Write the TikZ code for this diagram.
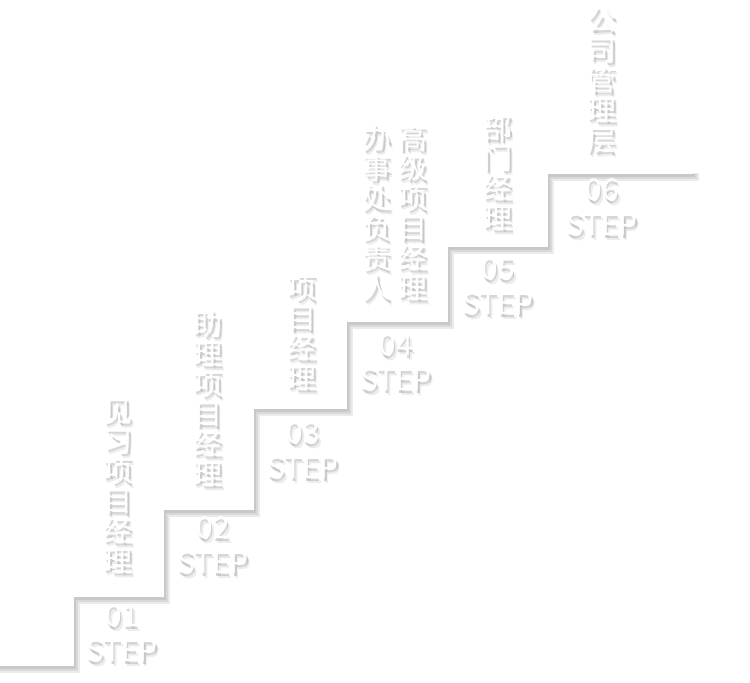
\documentclass[tikz,border=0pt]{standalone}
\usepackage{fontspec}
\setmainfont{Noto Sans CJK SC}
\usetikzlibrary{positioning}

\begin{document}
\begin{tikzpicture}[x=1pt, y=-1pt,
  num/.style={font=\fontsize{30}{35}\selectfont, align=center, inner sep=0pt},
  ttl/.style={font=\fontsize{29}{30}\selectfont, align=center, inner sep=0pt},
  shd/.style={text=black, opacity=0.16},
  shdb/.style={text=black, opacity=0.07},
  stair/.style={line join=miter, line cap=rect}]
\useasboundingbox (0,0) rectangle (750,683);
% the stairs: soft shadow, then the white line
\foreach \o/\w in {3/8, 2/5, 1/3}
  \draw[stair, black, opacity=0.08, line width=\w pt, shift={(\o,\o+1)}]
    (0,665) -| (73,596) -| (163,509) -| (253,408) -| (346,321) -| (447,246) -| (547,173) -- (692,173);
\draw[stair, white, line width=2.5pt]
  (0,665) -| (73,596) -| (163,509) -| (253,408) -| (346,321) -| (447,246) -| (547,173) -- (692,173);
% step numbers
\foreach \n/\x/\y/\l in {1/122/633/01, 2/213/545/02, 3/303/450/03, 4/396/362/04, 5/498/286/05, 6/602/207/06} {
  \node[num, shdb] at (\x+3,\y+5) {\l\\STEP};
  \node[num, shd] at (\x+1.5,\y+3) {\l\\STEP};
  \node[num, text=white] (s\n) at (\x,\y) {\l\\STEP};
}
% titles
\foreach \n/\x/\y/\l in {1/118/486/{见\\习\\项\\目\\经\\理}, 2/208/398/{助\\理\\项\\目\\经\\理},
    3/302/333/{项\\目\\经\\理}, 4a/377/212/{办\\事\\处\\负\\责\\人}, 4b/413/212/{高\\级\\项\\目\\经\\理},
    5/498/172/{部\\门\\经\\理}, 6/602/80/{公\\司\\管\\理\\层}} {
  \node[ttl, shdb] at (\x+3,\y+5) {\l};
  \node[ttl, shd] at (\x+1.5,\y+3) {\l};
  \node[ttl, text=white] (t\n) at (\x,\y) {\l};
}
\end{tikzpicture}
\end{document}
